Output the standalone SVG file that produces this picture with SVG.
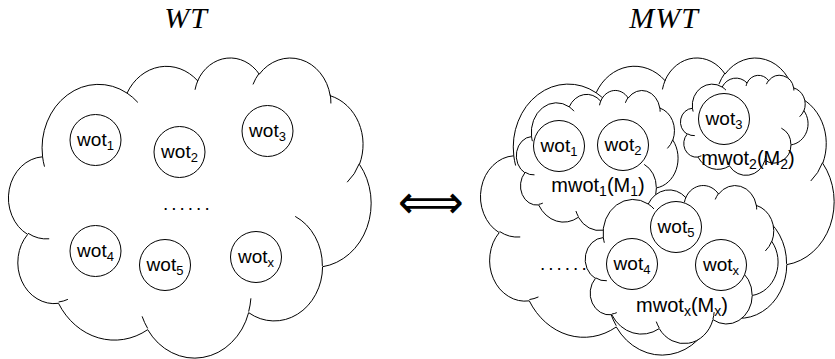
<svg xmlns="http://www.w3.org/2000/svg" xmlns:xlink="http://www.w3.org/1999/xlink" width="835" height="359" viewBox="0 0 835 359">
<style>
.ln{stroke:#000;stroke-width:1;vector-effect:non-scaling-stroke;stroke-linejoin:round}
.inner{fill:none}
.node{fill:#fff;stroke:#000;stroke-width:1}
.lbl{font-family:"Liberation Sans",Arial,sans-serif;font-size:19px;fill:#000;text-anchor:middle}
.mlbl{font-size:20px}
.sub{font-size:13px}
.msub{font-size:14px}
.title{font-family:"Liberation Serif","Times New Roman",serif;font-style:italic;font-size:30px;fill:#000;text-anchor:middle;letter-spacing:1px}
.dots{font-family:"Liberation Sans",Arial,sans-serif;font-size:19px;fill:#000;letter-spacing:3px}
</style>
<defs>
<g id="cloud">
<path class="ln" d="M3900,14370 A6753,9190 0 0 1 14005,5202 A5333,7267 0 0 1 22456,3432 A4365,5945 0 0 1 29833,2481 A4857,6595 0 0 1 38318,5576 A5333,7273 0 0 1 41818,15460 A6775,9220 0 0 1 37404,30203 A5785,7867 0 0 1 28556,36813 A6752,9215 0 0 1 16480,39264 A7720,10543 0 0 1 5804,35470 A4360,5918 0 0 1 2113,25548 A4345,5945 0 0 1 3900,14370 Z"/>
<path class="ln inner" d="M4693,26177 A4345,5945 0 0 1 2160,25380 M6928,34899 A4360,5918 0 0 1 5820,35280 M16478,39090 A6752,9215 0 0 1 15810,37350 M28827,34751 A6752,9215 0 0 1 28560,36660 M34129,22954 A5785,7867 0 0 1 37380,30090 M41798,15354 A5333,7273 0 0 1 40350,18030 M38324,5426 A4857,6595 0 0 1 38400,6690 M29078,3952 A4857,6595 0 0 1 29820,2340 M22141,4720 A4365,5945 0 0 1 22500,3330 M14000,5192 A6753,9190 0 0 1 15300,6541 M4127,15789 A6753,9190 0 0 1 3900,14370"/>
</g>
</defs>
<rect width="835" height="359" fill="#fff"/>

<text class="title" x="186" y="28">WT</text>
<text class="title" x="664" y="28">MWT</text>

<g id="WT">
<use xlink:href="#cloud" fill="#fff" transform="translate(10,57) scale(0.0083565,0.0069444)"/>
</g>
<g id="wt-wot1"><circle class="node" cx="95.5" cy="140" r="25.5"/><text class="lbl" x="95.5" y="146">wot<tspan class="sub" dy="4">1</tspan></text></g>
<g id="wt-wot2"><circle class="node" cx="179.5" cy="152" r="25.5"/><text class="lbl" x="179.5" y="158">wot<tspan class="sub" dy="4">2</tspan></text></g>
<g id="wt-wot3"><circle class="node" cx="267.5" cy="131" r="25.5"/><text class="lbl" x="267.5" y="137">wot<tspan class="sub" dy="4">3</tspan></text></g>
<g id="wt-wot4"><circle class="node" cx="95.5" cy="251" r="25.5"/><text class="lbl" x="95.5" y="257">wot<tspan class="sub" dy="4">4</tspan></text></g>
<g id="wt-wot5"><circle class="node" cx="165" cy="265" r="25.5"/><text class="lbl" x="165" y="271">wot<tspan class="sub" dy="4">5</tspan></text></g>
<g id="wt-wotx"><circle class="node" cx="256" cy="257" r="25.5"/><text class="lbl" x="256" y="263">wot<tspan class="sub" dy="4">x</tspan></text></g>
<text class="dots" x="163" y="210">......</text>

<text x="431" y="218" font-family="DejaVu Sans, sans-serif" font-size="46" text-anchor="middle" fill="#000">⟺</text>

<g id="MWT">
<use xlink:href="#cloud" fill="#fff" transform="translate(482,57) scale(0.0081481,0.006875)"/>
</g>
<g id="mwot1">
<use xlink:href="#cloud" fill="#fff" transform="translate(517,90) scale(0.0037269,0.0032407)"/>
</g>
<g id="mwot2">
<use xlink:href="#cloud" fill="#fff" transform="translate(681,75) scale(0.0029398,0.0023148)"/>
</g>
<g id="mwotx">
<use xlink:href="#cloud" fill="#fff" transform="translate(586,185) scale(0.0044444,0.0036574)"/>
</g>
<g id="m-wot1"><circle class="node" cx="559" cy="146" r="25.5"/><text class="lbl" x="559" y="152">wot<tspan class="sub" dy="4">1</tspan></text></g>
<g id="m-wot2"><circle class="node" cx="623" cy="145" r="25.5"/><text class="lbl" x="623" y="151">wot<tspan class="sub" dy="4">2</tspan></text></g>
<g id="m-wot3"><circle class="node" cx="724" cy="119" r="25.5"/><text class="lbl" x="724" y="125">wot<tspan class="sub" dy="4">3</tspan></text></g>
<g id="m-wot5"><circle class="node" cx="676" cy="227" r="25.5"/><text class="lbl" x="676" y="233">wot<tspan class="sub" dy="4">5</tspan></text></g>
<g id="m-wot4"><circle class="node" cx="632" cy="264" r="25.5"/><text class="lbl" x="632" y="270">wot<tspan class="sub" dy="4">4</tspan></text></g>
<g id="m-wotx"><circle class="node" cx="721" cy="265" r="25.5"/><text class="lbl" x="721" y="271">wot<tspan class="sub" dy="4">x</tspan></text></g>
<text class="lbl mlbl" x="598" y="192">mwot<tspan class="msub" dy="4">1</tspan><tspan dy="-4">(M</tspan><tspan class="msub" dy="4">1</tspan><tspan dy="-4">)</tspan></text>
<text class="lbl mlbl" x="748" y="165">mwot<tspan class="msub" dy="4">2</tspan><tspan dy="-4">(M</tspan><tspan class="msub" dy="4">2</tspan><tspan dy="-4">)</tspan></text>
<text class="lbl mlbl" x="682" y="312">mwot<tspan class="msub" dy="4">x</tspan><tspan dy="-4">(M</tspan><tspan class="msub" dy="4">x</tspan><tspan dy="-4">)</tspan></text>
<text class="dots" x="540" y="270">......</text>
</svg>
